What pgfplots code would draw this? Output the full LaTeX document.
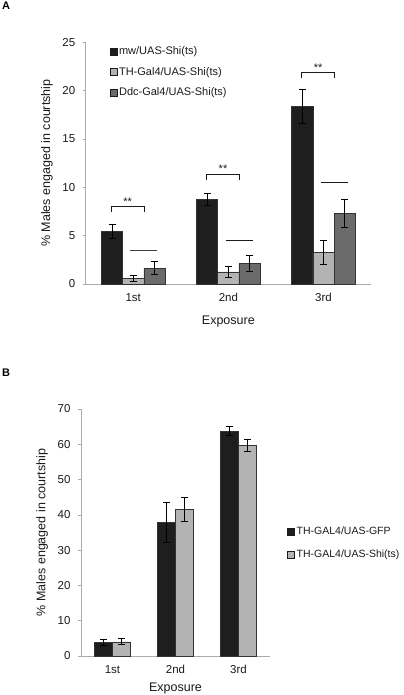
\documentclass[border=0pt]{standalone}
\usepackage{fontspec}
\setmainfont{Liberation Sans}
\usepackage{pgfplots}
\usepackage{pgfplotstable}
\pgfplotsset{compat=1.18}
\definecolor{cblack}{HTML}{1E1E1E}
\definecolor{clight}{HTML}{B3B3B3}
\definecolor{cdark}{HTML}{6B6B6B}
\definecolor{caxis}{HTML}{ABABAB}
\definecolor{ctext}{HTML}{1A1A1A}

% Panel A
\pgfplotstableread{
x y e
1 5.4 0.72
2 8.75 0.63
3 18.4 1.77
}\Aone
\pgfplotstableread{
x y e
1 0.55 0.3
2 1.26 0.58
3 3.25 1.27
}\Atwo
\pgfplotstableread{
x y e
1 1.65 0.7
2 2.13 0.85
3 7.3 1.43
}\Athree
% Panel B
\pgfplotstableread{
x y e
1 3.9 0.8
2 37.9 5.7
3 63.7 1.3
}\Bone
\pgfplotstableread{
x y e
1 4.0 0.85
2 41.5 3.4
3 59.7 1.6
}\Btwo

\pgfplotsset{
  panel/.style={
    scale only axis,
    axis x line*=bottom, axis y line*=left,
    axis line style={caxis, line width=0.7pt},
    tick align=outside,
    major tick length=3bp, minor tick length=3bp,
    ytick style={caxis, line width=0.7pt},
    xtick style={draw=none},
    every minor tick/.append style={caxis, line width=0.7pt},
    xmin=0.5, xmax=3.5, ymin=0,
    xtick={1,2,3}, xticklabels={1st,2nd,3rd},
    minor xtick={0.5,1.5,2.5,3.5},
    /pgf/number format/assume math mode=true,
    tick label style={font=\fontsize{11.5bp}{13bp}\selectfont, text=ctext},
    yticklabel style={xshift=-4bp},
    label style={font=\fontsize{12.5bp}{14bp}\selectfont, text=ctext},
    ybar=0pt,
    error bars/y dir=both, error bars/y explicit,
    error bars/error bar style={black, line width=0.8pt},
    error bars/error mark options={black, line width=0.8pt, mark size=3.5bp, rotate=90},
    legend cell align=left,
    legend image code/.code={\draw[##1, draw=ctext, line width=0.5pt] (0bp,-3.5bp) rectangle (7bp,3.5bp);},
  },
  barst/.style={draw=black!80, line width=0.6pt},
}

\begin{document}
\begin{tikzpicture}
\useasboundingbox (0,0) rectangle (404bp,-695bp);
\node[anchor=north west, inner sep=0pt, font=\bfseries\fontsize{11bp}{12bp}\selectfont] at (2bp,-2bp) {A};
\node[anchor=north west, inner sep=0pt, font=\bfseries\fontsize{11bp}{12bp}\selectfont] at (2bp,-369bp) {B};

\begin{axis}[panel,
  at={(85.7bp,-284bp)}, anchor=south west,
  width=285.3bp, height=241.7bp,
  ymax=25, ytick={0,5,10,15,20,25},
  bar width=21.2bp,
  xlabel={Exposure}, ylabel={\% Males engaged in courtship},
  xticklabel style={yshift=-3bp},
  xlabel style={at={(axis description cs:0.5,-0.157)}, anchor=center},
  ylabel style={at={(axis description cs:-0.136,0.5)}, anchor=center},
  legend style={at={(axis description cs:0.083,0.99)}, anchor=north west,
    draw=none, fill=none, inner sep=0pt, row sep=7bp,
    font=\fontsize{11bp}{13bp}\selectfont, text=ctext},
]
\addplot[barst, fill=cblack] table[x=x, y=y, y error=e] {\Aone};
\addplot[barst, fill=clight] table[x=x, y=y, y error=e] {\Atwo};
\addplot[barst, fill=cdark] table[x=x, y=y, y error=e] {\Athree};
\legend{mw/UAS-Shi(ts), TH-Gal4/UAS-Shi(ts), Ddc-Gal4/UAS-Shi(ts)}
% significance brackets
\draw[ctext, line width=0.7pt] (axis cs:0.768,7.4) -- (axis cs:0.768,8.0) -- (axis cs:1.113,8.0) -- (axis cs:1.113,7.4);
\draw[ctext, line width=0.7pt] (axis cs:1.772,10.76) -- (axis cs:1.772,11.38) -- (axis cs:2.116,11.38) -- (axis cs:2.116,10.76);
\draw[ctext, line width=0.7pt] (axis cs:2.771,21.28) -- (axis cs:2.771,21.86) -- (axis cs:3.115,21.86) -- (axis cs:3.115,21.28);
\node[font=\fontsize{11bp}{12bp}\selectfont, text=ctext, anchor=south, inner sep=1bp] at (axis cs:0.94,8.0) {**};
\node[font=\fontsize{11bp}{12bp}\selectfont, text=ctext, anchor=south, inner sep=1bp] at (axis cs:1.944,11.38) {**};
\node[font=\fontsize{11bp}{12bp}\selectfont, text=ctext, anchor=south, inner sep=1bp] at (axis cs:2.943,21.86) {**};
% horizontal lines
\draw[black!75, line width=0.8pt] (axis cs:0.966,3.48) -- (axis cs:1.253,3.48);
\draw[ctext, line width=0.8pt] (axis cs:1.972,4.48) -- (axis cs:2.256,4.48);
\draw[ctext, line width=0.8pt] (axis cs:2.972,10.48) -- (axis cs:3.256,10.48);
\end{axis}

\begin{axis}[panel,
  at={(81bp,-656bp)}, anchor=south west,
  width=189bp, height=247bp,
  ymax=70, ytick={0,10,...,70},
  bar width=18.2bp,
  xlabel={Exposure}, ylabel={\% Males engaged in courtship},
  xticklabel style={yshift=-3bp},
  xlabel style={at={(axis description cs:0.5,-0.13)}, anchor=center},
  ylabel style={at={(axis description cs:-0.206,0.5)}, anchor=center},
  legend style={at={(axis description cs:1.09,0.457)}, anchor=west,
    draw=none, fill=none, inner sep=0pt, row sep=10bp,
    font=\fontsize{10.5bp}{12bp}\selectfont, text=ctext},
]
\addplot[barst, fill=cblack] table[x=x, y=y, y error=e] {\Bone};
\addplot[barst, fill=clight] table[x=x, y=y, y error=e] {\Btwo};
\legend{TH-GAL4/UAS-GFP, TH-GAL4/UAS-Shi(ts)}
\end{axis}
\end{tikzpicture}
\end{document}
